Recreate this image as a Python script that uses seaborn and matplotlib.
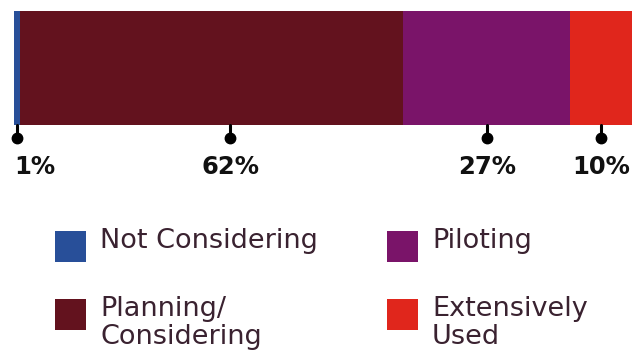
import matplotlib
matplotlib.use("Agg")
import matplotlib.pyplot as plt
import seaborn as sns
import pandas as pd
import numpy as np
from matplotlib.patches import Rectangle

categories = ["Not Considering", "Planning/\nConsidering", "Piloting", "Extensively\nUsed"]
values = [1, 62, 27, 10]
labels = ["1%", "62%", "27%", "10%"]
label_pos = [0.5, 35, 76.5, 95]   # where each pin sits
colors = ["#284f99", "#63121e", "#7a1469", "#e0261c"]

sns.set_theme(style="white")
plt.rcParams['font.family'] = ['DejaVu Sans']

W, H = 632, 363
fig = plt.figure(figsize=(W / 100, H / 100), dpi=100)

# bar axes: x 14..632, y 11..125 (pixel)
ax = fig.add_axes([14 / W, 1 - 125 / H, 618 / W, 114 / H])

cum = np.cumsum(values)
# stacked bar: draw cumulative totals largest-first so each overlays the previous
for i in range(len(values) - 1, -1, -1):
    df = pd.DataFrame({"total": [cum[i]], "row": ["all"]})
    sns.barplot(data=df, x="total", y="row", orient="h", color=colors[i],
                width=1.0, saturation=1, ax=ax, linewidth=0)
ax.set_xlim(0, 100)
ax.set_ylim(0.5, -0.5)
ax.axis("off")

# pins and labels
for i, (lab, p) in enumerate(zip(labels, label_pos)):
    xf = (14 + p / 100 * 618) / W
    fig.add_artist(plt.Line2D([xf, xf], [1 - 125 / H, 1 - 136 / H], color="black", lw=2.2,
                              transform=fig.transFigure))
    fig.add_artist(plt.Line2D([xf], [1 - 138 / H], marker="o", markersize=7.5, color="black",
                              transform=fig.transFigure))
    if i == 0:
        fig.text(14 / W, 1 - 167 / H, lab, ha="left", va="center", fontsize=17.5,
                 fontweight="bold", color="#111111")
    else:
        fig.text(xf, 1 - 167 / H, lab, ha="center", va="center", fontsize=17.5,
                 fontweight="bold", color="#111111")

# legend (2x2)
sq = 31
cols_x = [55, 387]
rows_y = [231, 299]
for i, (cat, c) in enumerate(zip(categories, colors)):
    col = i // 2
    row = i % 2
    x0 = cols_x[col]
    y0 = rows_y[row]
    fig.add_artist(Rectangle((x0 / W, 1 - (y0 + sq) / H), sq / W, sq / H, color=c,
                             transform=fig.transFigure, lw=0))
    fig.text((x0 + 45) / W, 1 - (y0 - 3) / H, cat, ha="left", va="top", fontsize=19.5,
             color="#3a2230", linespacing=1.12)

fig.savefig("out.png", dpi=100)
